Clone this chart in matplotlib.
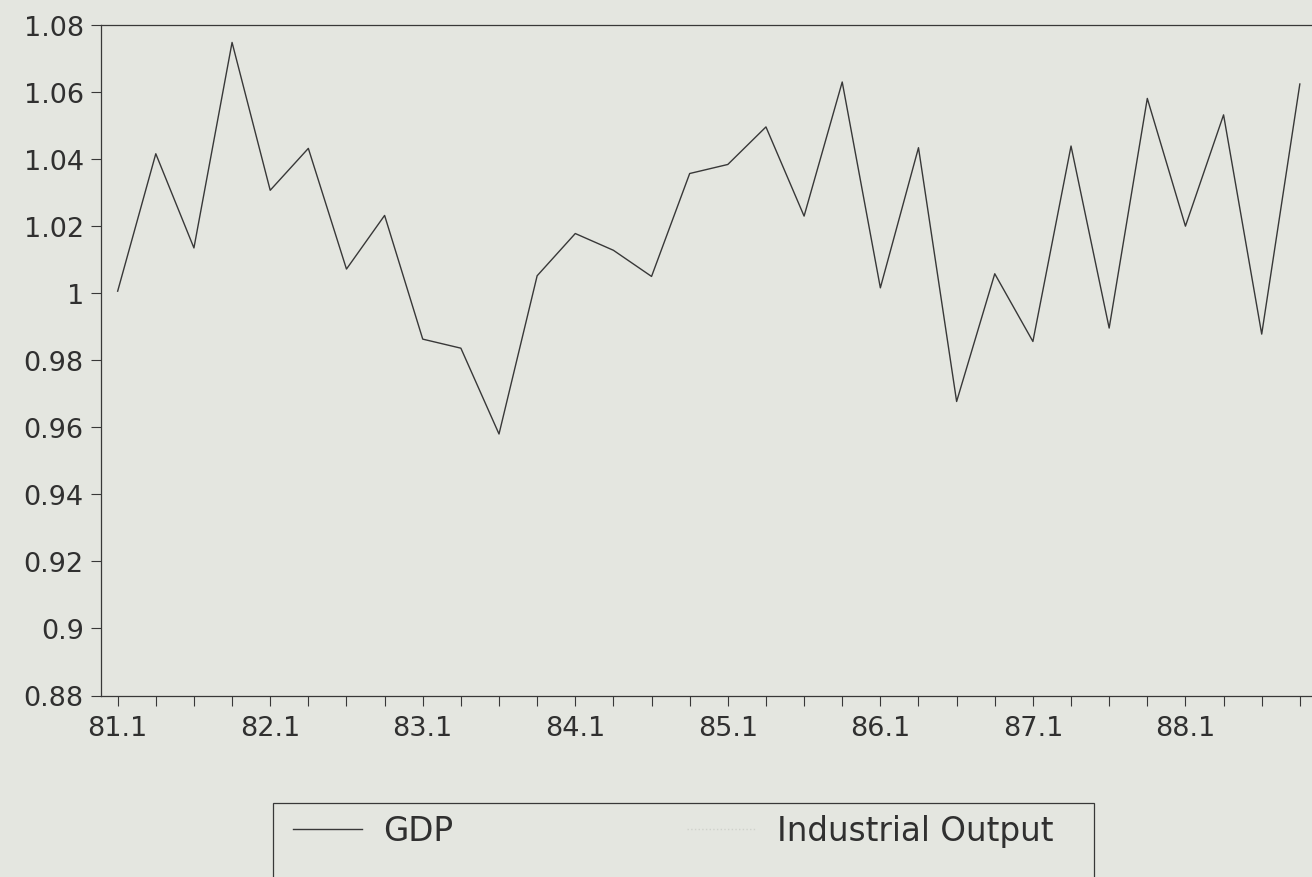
import matplotlib
matplotlib.use("Agg")
import matplotlib.pyplot as plt
from matplotlib.lines import Line2D
from matplotlib.patches import Rectangle

# quarterly data 81.1 .. 88.4
quarters = [f"{y}.{q}" for y in range(81, 89) for q in range(1, 5)]
gdp = [1.0006, 1.0416, 1.0135, 1.0748, 1.0307, 1.0432, 1.0072, 1.0232,
       0.9863, 0.9836, 0.9580, 1.0052, 1.0178, 1.0128, 1.0050, 1.0357,
       1.0384, 1.0496, 1.0230, 1.0630, 1.0016, 1.0434, 0.9677, 1.0058,
       0.9856, 1.0439, 0.9896, 1.0581, 1.0200, 1.0532, 0.9878, 1.0624]
y_ticks = [0.88, 0.90, 0.92, 0.94, 0.96, 0.98, 1.00, 1.02, 1.04, 1.06, 1.08]
y_labels = ["0.88", "0.9", "0.92", "0.94", "0.96", "0.98", "1", "1.02", "1.04", "1.06", "1.08"]
series_names = ["GDP", "Industrial Output"]

bg = "#e4e6e0"
ink = "#383838"

plt.rcParams["font.family"] = ["DejaVu Sans"]

fig = plt.figure(figsize=(13.12, 8.78), dpi=100, facecolor=bg)
W, H = 1312, 878
ax = fig.add_axes([100.5 / W, 1 - 696.5 / H, (1317 - 100.5) / W, (696.5 - 26) / H])
ax.set_facecolor(bg)

x = list(range(len(quarters)))
ax.plot(x, gdp, color=ink, linewidth=1.0)

ax.set_xlim(-0.45, 31.45)
ax.set_ylim(0.88, 1.08)

ax.set_xticks(x)
ax.set_xticklabels([q if q.endswith(".1") else "" for q in quarters])
ax.set_yticks(y_ticks)
ax.set_yticklabels(y_labels)

ax.tick_params(axis="x", direction="out", length=7, width=0.8, color=ink,
               labelsize=19.5, labelcolor="#303030", pad=7)
ax.tick_params(axis="y", direction="out", length=7, width=0.8, color=ink,
               labelsize=19.5, labelcolor="#303030", pad=5)

for s in ax.spines.values():
    s.set_color(ink)
    s.set_linewidth(0.9)

# legend (box runs off the bottom of the page in the original)
fig.patches.append(Rectangle((272.7 / W, -0.05), (1094 - 272.7) / W, (1 - 804 / H) + 0.05,
                             transform=fig.transFigure, facecolor="none",
                             edgecolor=ink, linewidth=0.9))
handles = [Line2D([], [], color=ink, linewidth=1.0),
           Line2D([], [], color="#cfd1cb", linewidth=1.0, linestyle=":")]
fig.legend(handles, series_names, loc="center left",
           bbox_to_anchor=(293 / W, 1 - 832 / H), ncol=2, frameon=False,
           fontsize=23.5, handlelength=2.1, handletextpad=0.67,
           columnspacing=7.15, borderpad=0, borderaxespad=0, labelcolor="#303030")

fig.savefig("out.png", dpi=100, facecolor=bg)
